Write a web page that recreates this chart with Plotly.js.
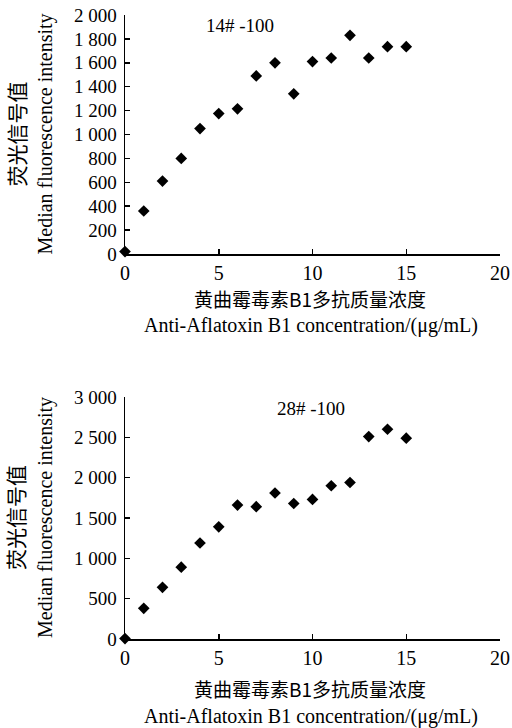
<!DOCTYPE html>
<html>
<head>
<meta charset="utf-8">
<script src="https://cdn.plot.ly/plotly-3.0.1.min.js"></script>
<style>html,body{margin:0;padding:0;background:#fff;}#chart{width:512px;height:728px;}</style>
</head>
<body>
<div id="chart"></div>
<script>
// Data
const concentration = [0, 1, 2, 3, 4, 5, 6, 7, 8, 9, 10, 11, 12, 13, 14, 15];
const intensity14 = [20, 360, 610, 800, 1050, 1175, 1215, 1490, 1600, 1340, 1610, 1640, 1830, 1640, 1735, 1735];
const intensity28 = [5, 380, 640, 890, 1190, 1390, 1660, 1640, 1810, 1680, 1730, 1900, 1940, 2510, 2600, 2490];
const xTicks = [0, 5, 10, 15, 20];
const label14 = "14# -100";
const label28 = "28# -100";
const xTitleZh = "黄曲霉毒素B1多抗质量浓度";
const xTitleEn = "Anti-Aflatoxin B1 concentration/(μg/mL)";
const yTitleZh = "荧光信号值";
const yTitleEn = "Median fluorescence intensity";

const W = 512, H = 728;
const M = {l: 125, r: 12, t: 15, b: 89};
const PW = W - M.l - M.r, PH = H - M.t - M.b;
const px2y = y => (H - M.b - y) / PH;
const px2x = x => (x - M.l) / PW;

const FONT = "Liberation Serif, 'Times New Roman', 'Noto Sans CJK SC', serif";
const ZHFONT = "'Noto Sans CJK SC', 'Liberation Serif', serif";

const markerStyle = {symbol: 'diamond', size: 9, color: '#000'};

const traces = [
  {x: concentration, y: intensity14, type: 'scatter', mode: 'markers', marker: markerStyle, xaxis: 'x', yaxis: 'y', cliponaxis: false, showlegend: false},
  {x: concentration, y: intensity28, type: 'scatter', mode: 'markers', marker: markerStyle, xaxis: 'x2', yaxis: 'y2', cliponaxis: false, showlegend: false}
];

function xax(anchor) {
  return {
    anchor: anchor, range: [0, 20.0001], tickmode: 'array', tickvals: xTicks,
    showline: true, linecolor: '#000', linewidth: 1.5, mirror: false,
    ticks: 'inside', ticklen: 5, tickcolor: '#000', tickwidth: 1.5,
    showgrid: false, zeroline: false, ticklabeloverflow: 'allow',
    tickfont: {family: FONT, size: 20, color: '#000'}
  };
}
function yax(anchor, range, dtick, domain) {
  return {
    anchor: anchor, domain: domain, range: range, dtick: dtick, tick0: 0,
    tickformat: ',d',
    showline: true, linecolor: '#000', linewidth: 1.5,
    ticks: 'inside', ticklen: 5, tickcolor: '#000', tickwidth: 1.5,
    showgrid: false, zeroline: false, ticklabelstandoff: 3,
    tickfont: {family: FONT, size: 19, color: '#000'}
  };
}

const topBottom = 254, topTop = 15, botTop = 397, botBottom = 639;

const annotations = [];
function addTitles(topPx, botPx, labelText, labelX, labelY, zhY, enY) {
  const mid = (topPx + botPx) / 2;
  annotations.push({xref: 'paper', yref: 'paper', x: px2x(15), y: px2y(mid), text: yTitleZh, textangle: -90, showarrow: false, xanchor: 'center', yanchor: 'middle', font: {family: ZHFONT, size: 21, color: '#000'}});
  annotations.push({xref: 'paper', yref: 'paper', x: px2x(45), y: px2y(mid), text: yTitleEn, textangle: -90, showarrow: false, xanchor: 'center', yanchor: 'middle', font: {family: FONT, size: 20, color: '#000'}});
  annotations.push({xref: 'paper', yref: 'paper', x: px2x(310), y: px2y(zhY), text: xTitleZh, showarrow: false, xanchor: 'center', yanchor: 'middle', font: {family: ZHFONT, size: 19, color: '#000'}});
  annotations.push({xref: 'paper', yref: 'paper', x: px2x(311), y: px2y(enY), text: xTitleEn, showarrow: false, xanchor: 'center', yanchor: 'middle', font: {family: FONT, size: 20, color: '#000'}});
  annotations.push({xref: 'paper', yref: 'paper', x: px2x(labelX), y: px2y(labelY), text: labelText, showarrow: false, xanchor: 'center', yanchor: 'middle', font: {family: FONT, size: 19, color: '#000'}});
}
addTitles(topTop, topBottom, label14, 240, 25, 298, 325);
addTitles(botTop, botBottom, label28, 311, 408, 688, 716);

const layout = {
  width: W, height: H,
  margin: M,
  paper_bgcolor: '#fff', plot_bgcolor: '#fff',
  separators: '. ',
  showlegend: false,
  xaxis: xax('y'),
  yaxis: yax('x', [0, 2000], 200, [px2y(topBottom), 1]),
  xaxis2: xax('y2'),
  yaxis2: yax('x2', [0, 3000], 500, [0, px2y(botTop)]),
  annotations: annotations,
  font: {family: FONT, color: '#000'}
};

Plotly.newPlot('chart', traces, layout, {displayModeBar: false, staticPlot: true});
</script>
</body>
</html>
